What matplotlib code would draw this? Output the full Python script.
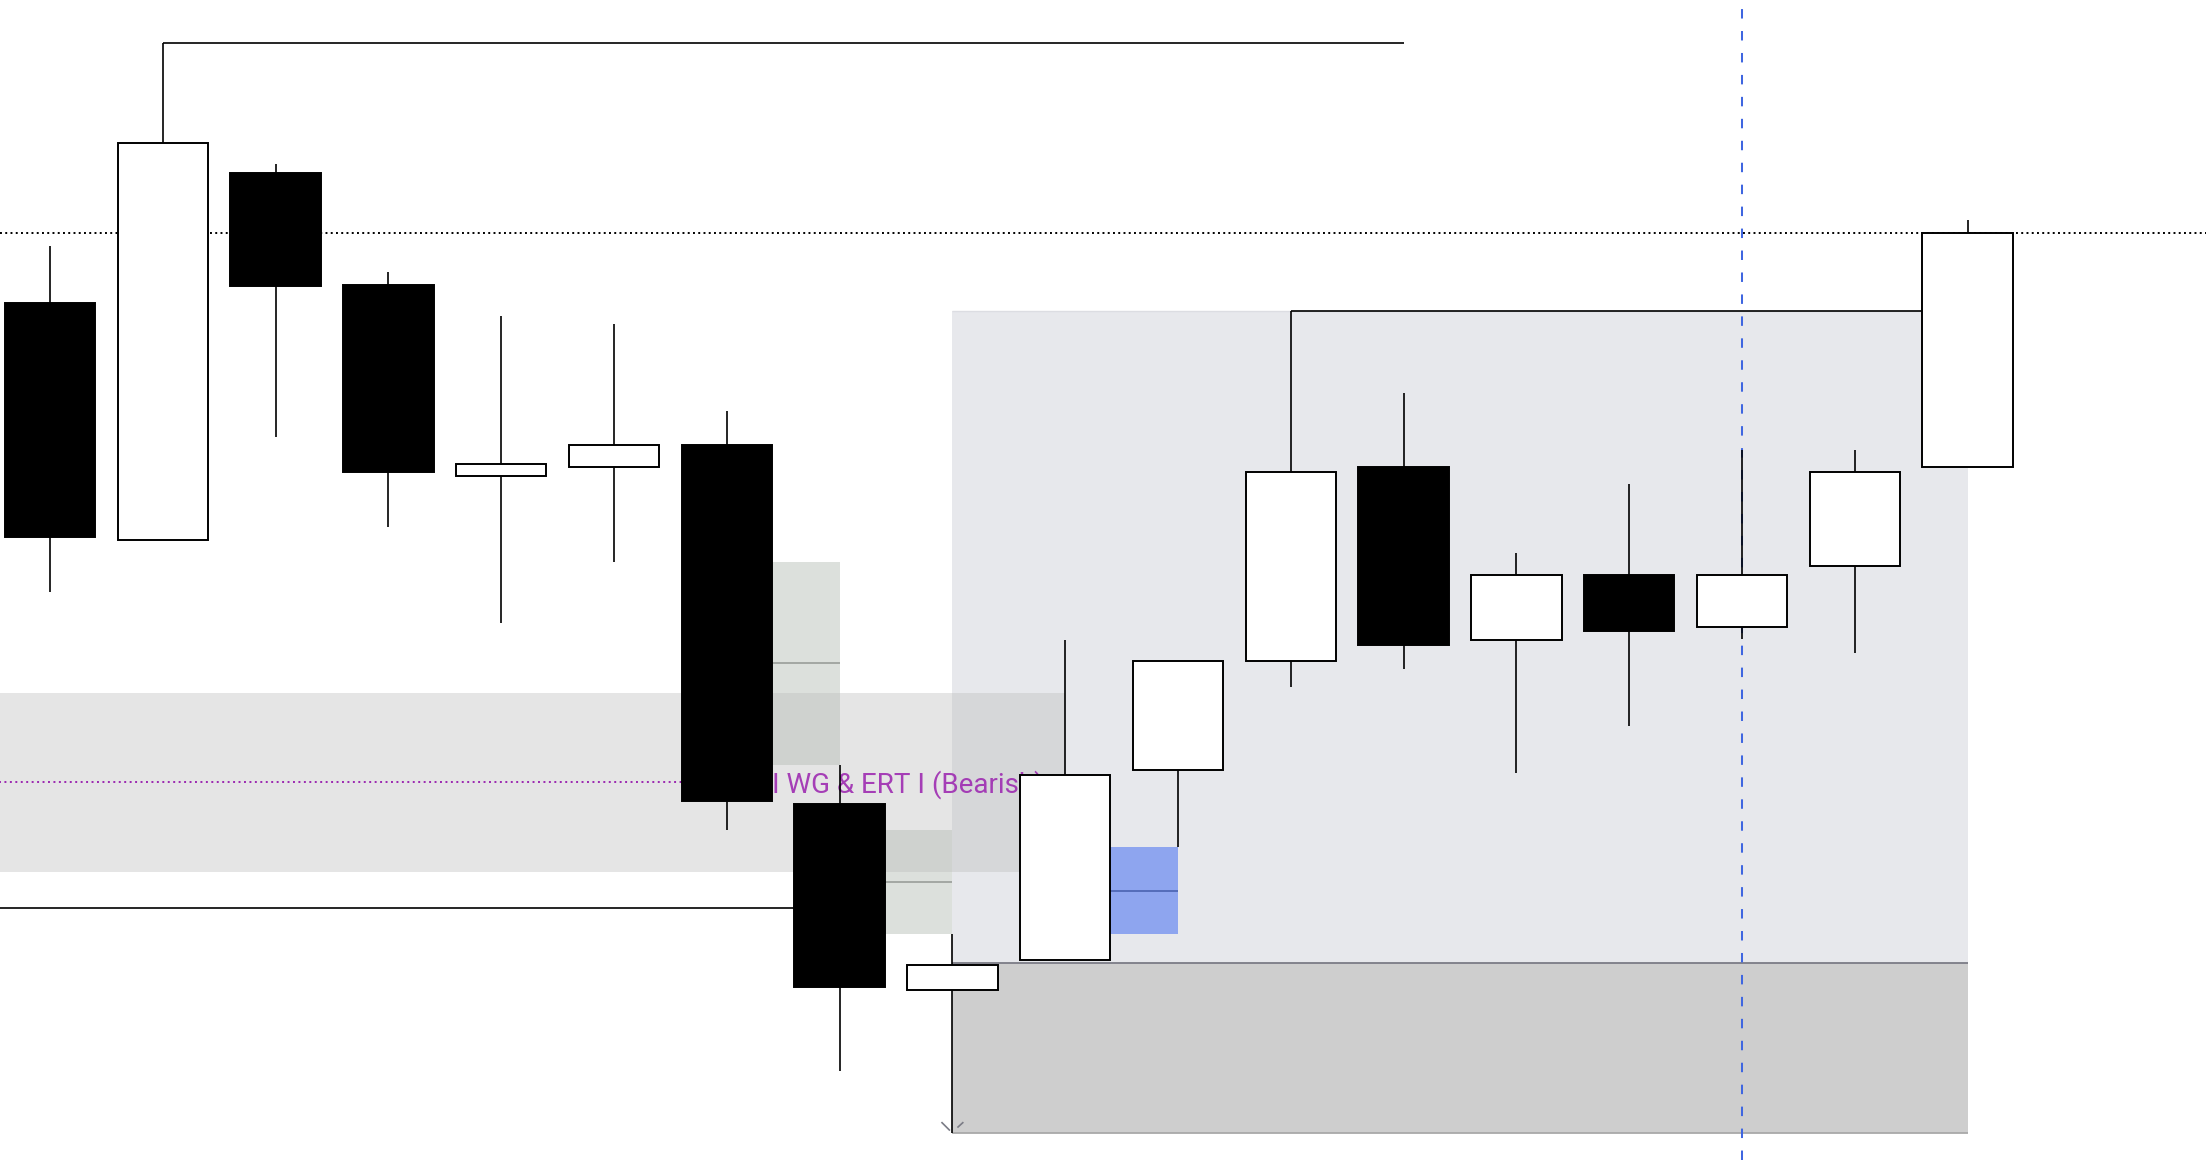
import matplotlib
matplotlib.use("Agg")
import matplotlib.pyplot as plt
from matplotlib.patches import Rectangle

# ---------------- data (price units) ----------------
candle_idx = list(range(18))
opens  = [89.70, 66.00, 102.70, 91.50, 72.40, 73.30, 75.50, 39.60, 21.00, 24.00, 43.00, 53.93, 73.30, 56.00, 62.47, 57.30, 63.40, 73.33]
highs  = [95.40, 115.70, 103.60, 92.80, 88.40, 87.60, 78.90, 43.50, 26.60, 56.00, 53.85, 88.90, 80.70, 64.70, 71.60, 75.00, 75.00, 98.00]
lows   = [60.85, 66.00, 76.30, 67.35, 57.75, 63.84, 37.05, 12.90, 6.70, 24.00, 35.30, 51.33, 53.07, 42.67, 47.43, 56.07, 54.73, 73.33]
closes = [66.30, 105.65, 91.40, 72.85, 73.65, 75.50, 39.94, 21.35, 23.55, 42.55, 53.85, 72.83, 55.53, 62.47, 56.87, 62.47, 72.83, 96.65]

# key levels
swing_high_level = 115.70      # from candle 1 to candle 12
swing_high_span = (1, 12)
range_high_level = 88.90       # from candle 11 to candle 17
range_high_span = (11, 17)
swing_low_level = 29.20        # from off-chart to candle 7
swing_low_span = (-3, 7)
ref_dotted_level = 96.73       # full width dotted

# bearish zone band with dotted midline + label
band_top, band_bottom, band_mid = 50.70, 32.80, 41.80
band_span = (-3, 9)
band_label = "I WG & ERT I (Bearish)"
band_label_x = 6.40
band_label_baseline = 40.70

# fair value gaps
fvg_x0 = [6, 7, 9]
fvg_x1 = [7, 8, 10]
fvg_top = [63.84, 37.05, 35.30]
fvg_bottom = [43.50, 26.60, 26.60]
fvg_kind = ["bear", "bear", "bull"]

# position tool box
pos_x0, pos_x1 = 8, 17
pos_target, pos_entry, pos_stop = 88.90, 23.67, 6.73

# vertical marker
vline_idx = 15

# ---------------- figure ----------------
W, H = 2206, 1160
fig = plt.figure(figsize=(W / 100, H / 100), dpi=100)
ax = fig.add_axes([0, 0, 1, 1])
ax.set_axis_off()
step_px = 112.8
x_left = -50 / step_px
x_right = (W - 50) / step_px
ax.set_xlim(x_left, x_right)
ax.set_ylim(4.0, 120.0)

# position tool
ax.add_patch(Rectangle((pos_x0, pos_entry), pos_x1 - pos_x0, pos_target - pos_entry,
                       facecolor="#e7e8ec", edgecolor="none", zorder=1))
ax.add_patch(Rectangle((pos_x0, pos_stop), pos_x1 - pos_x0, pos_entry - pos_stop,
                       facecolor="#cecece", edgecolor="none", zorder=1))
ax.hlines(pos_entry, pos_x0, pos_x1, color="#7b7c86", lw=1.3, zorder=1.5)
ax.hlines(pos_stop, pos_x0, pos_x1, color="#a9a9a9", lw=1.3, zorder=1.5)
ax.hlines(pos_target, pos_x0, pos_x1, color="#dcdde2", lw=1.0, zorder=1.5)

# small chevron marker at box corner
ax.plot([pos_x0 - 0.092, pos_x0 - 0.027], [pos_stop + 1.0, pos_stop + 0.27],
        color="#7b7c86", lw=1.2, zorder=1.6)
ax.plot([pos_x0 + 0.05, pos_x0 + 0.092], [pos_stop + 0.57, pos_stop + 1.0],
        color="#7b7c86", lw=1.2, zorder=1.6)

# FVG boxes
for x0, x1, t, b, k in zip(fvg_x0, fvg_x1, fvg_top, fvg_bottom, fvg_kind):
    fc = "#dce0dc" if k == "bear" else "#8ea5ef"
    mc = "#9ea29e" if k == "bear" else "#4f68b5"
    ax.add_patch(Rectangle((x0, b), x1 - x0, t - b, facecolor=fc, edgecolor="none", zorder=2))
    ax.hlines((t + b) / 2, x0, x1, color=mc, lw=1.3, zorder=2.1)

# translucent band
ax.add_patch(Rectangle((band_span[0], band_bottom), band_span[1] - band_span[0], band_top - band_bottom,
                       facecolor="#bcbcbc", alpha=0.375, edgecolor="none", zorder=2.5))
ax.hlines(band_mid, band_span[0], 6, color="#9c27b0", lw=1.4, linestyles=(0, (1, 1.8)), zorder=3)
ax.text(band_label_x, band_label_baseline, band_label, color="#9c27b0", alpha=0.88, fontsize=20,
        family=["Roboto", "DejaVu Sans"], va="baseline", ha="left", zorder=3)

# level lines
ax.axhline(ref_dotted_level, color="black", lw=1.4, linestyle=(0, (1, 1.7)), zorder=3)
ax.hlines(swing_high_level, *swing_high_span, color="black", lw=1.2, zorder=3)
ax.hlines(range_high_level, *range_high_span, color="black", lw=1.2, zorder=3)
ax.hlines(swing_low_level, *swing_low_span, color="black", lw=1.2, zorder=3)

# vertical dashed marker
ax.axvline(vline_idx, color="#3f66e0", lw=1.45, linestyle=(0, (4.7, 6.2)), zorder=3)

# candles
ax.vlines(candle_idx, lows, highs, color="black", lw=1.2, zorder=4)
bottoms = [min(o, c) for o, c in zip(opens, closes)]
heights = [abs(c - o) for o, c in zip(opens, closes)]
fills = ["black" if c < o else "white" for o, c in zip(opens, closes)]
ax.bar(candle_idx, heights, bottom=bottoms, width=0.8, color=fills,
       edgecolor="black", linewidth=1.4, zorder=5)

fig.savefig("out.png", dpi=100)
